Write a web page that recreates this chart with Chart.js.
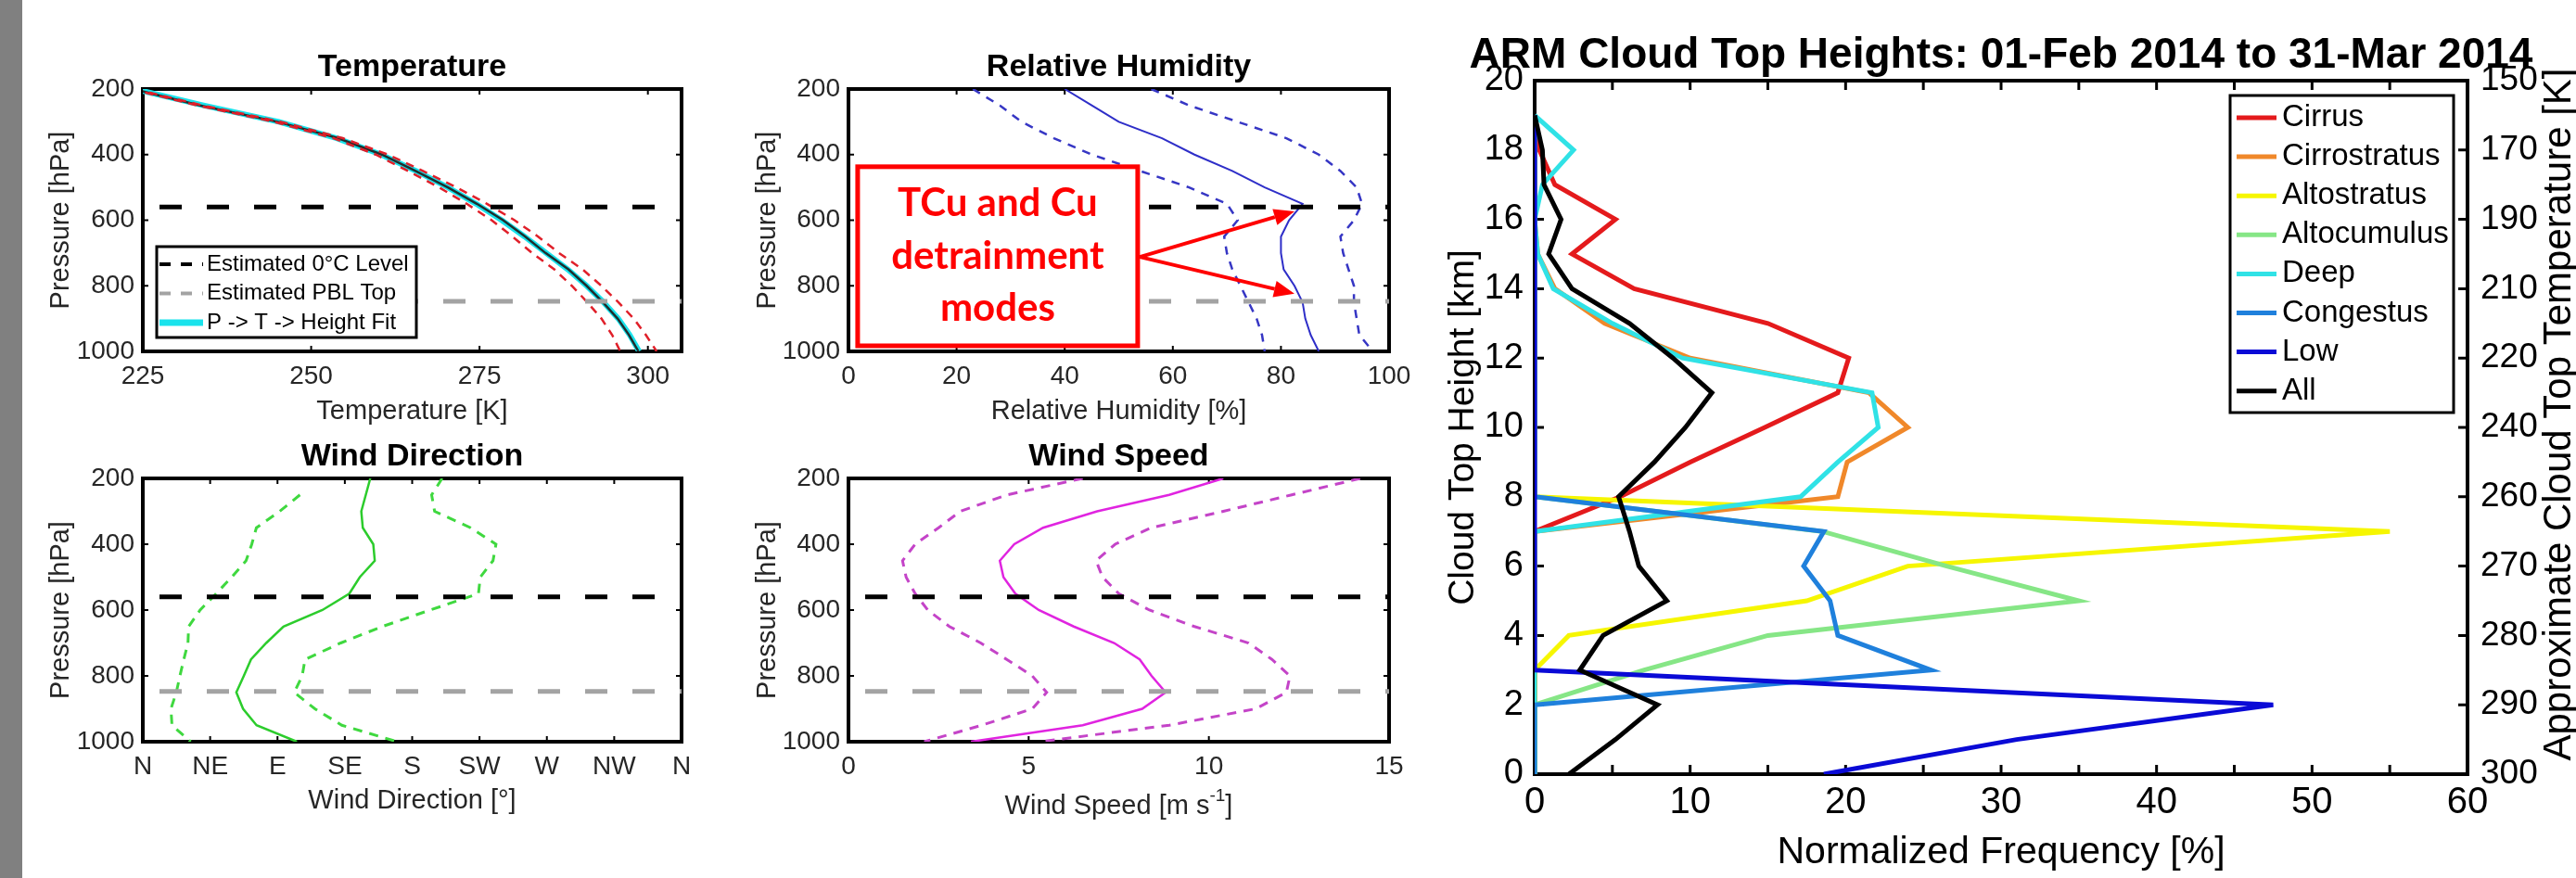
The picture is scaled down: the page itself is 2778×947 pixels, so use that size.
<!DOCTYPE html>
<html>
<head>
<meta charset="utf-8">
<script src="https://cdn.jsdelivr.net/npm/chart.js@4.4.1/dist/chart.umd.min.js"></script>
<style>
  html, body { margin: 0; padding: 0; background: #fff; }
  body { position: relative; width: 2778px; height: 947px; overflow: hidden; }
  #strip { position: absolute; left: 0; top: 0; width: 24px; height: 947px; background: #808080; }
  canvas { position: absolute; }
</style>
</head>
<body>
<div id="strip"></div>
<canvas id="cTemp"></canvas>
<canvas id="cRh"></canvas>
<canvas id="cWdir"></canvas>
<canvas id="cWspd"></canvas>
<canvas id="cCloud"></canvas>
<script>
// ---- profile data (pressure levels, hPa) ----
const PRESSURE = [200, 250, 300, 350, 400, 450, 500, 550, 600, 650, 700, 750, 800, 850, 900, 950, 1000];
const FREEZING_LEVEL = 560;
const PBL_TOP = 847;

const TEMP_MEAN = [223.5, 233.5, 245.0, 254.0, 260.5, 265.5, 270.3, 274.6, 278.5, 281.8, 284.8, 288.2, 290.9, 293.3, 295.5, 297.2, 298.6];
const TEMP_FIT  = [223.8, 234.0, 245.2, 253.8, 260.4, 265.6, 270.3, 274.5, 278.3, 281.7, 284.9, 288.1, 290.9, 293.4, 295.6, 297.3, 298.7];
const TEMP_LOW  = [223.2, 233.1, 244.5, 253.3, 259.6, 264.4, 269.0, 273.1, 276.8, 279.9, 282.8, 286.1, 288.7, 291.0, 293.1, 294.7, 295.9];
const TEMP_HIGH = [223.8, 233.9, 245.5, 254.7, 261.4, 266.6, 271.6, 276.1, 280.2, 283.7, 286.8, 290.3, 293.1, 295.6, 297.9, 299.7, 301.3];

const RH_MEAN = [40, 45, 50, 58, 64, 71, 77, 84, 81.5, 80, 80, 80.5, 82.5, 84, 84.5, 85.5, 87];
const RH_LOW  = [23, 28, 32, 38, 45, 54, 63, 70, 72, 69.5, 70, 71, 72.5, 74, 75.5, 76.5, 77];
const RH_HIGH = [56, 63, 72, 81, 87, 91, 94, 95, 93.5, 91, 91.5, 92.5, 93.5, 93.5, 94, 94.5, 97];

const WDIR_MEAN = [152, 149, 146, 147, 154, 155, 145, 138, 120, 94, 82.5, 72.3, 67.5, 62.5, 67, 76, 103];
const WDIR_LOW  = [null, 105, 91.5, 75.9, 72.8, 69, 59.4, 49, 38.3, 30.6, 30.2, 27.4, 24.8, 22.4, 18.8, 19.5, 32];
const WDIR_HIGH = [200, 193, 195, 219, 236, 234, 225.5, 224.3, 192, 160, 132.3, 108.4, 106.5, 101.2, 115, 133, 170];

const WSPD_MEAN = [10.4, 8.9, 6.9, 5.4, 4.6, 4.2, 4.3, 4.63, 5.28, 6.25, 7.37, 8.08, 8.41, 8.8, 8.15, 6.5, 3.4];
const WSPD_LOW  = [6.5, 4.4, 3.1, 2.5, 1.85, 1.5, 1.6, 1.85, 2.2, 2.8, 3.67, 4.39, 5.1, 5.5, 5.1, 3.7, 2.1];
const WSPD_HIGH = [14.2, 12.3, 10.4, 8.4, 7.4, 6.87, 7.05, 7.5, 8.35, 9.6, 11.1, 11.75, 12.25, 12.15, 11.3, 8.9, 5.3];

// ---- cloud top height histogram (km, %) ----
const HEIGHT_KM = [0, 1, 2, 3, 4, 5, 6, 7, 8, 9, 10, 11, 12, 13, 14, 15, 16, 17, 18, 19];
const CIRRUS       = [0, 0, 0, 0, 0, 0, 0, 0, 5.5, 10, 14.8, 19.5, 20.2, 15, 6.4, 2.4, 5.2, 1.3, 0.3, 0];
const CIRROSTRATUS = [0, 0, 0, 0, 0, 0, 0, 0, 19.5, 20.1, 24, 21.5, 10, 4.5, 1.3, 0.2, 0, 0, 0, 0];
const ALTOSTRATUS  = [0, 0, 0, 0, 2.2, 17.5, 24, 55, 0, 0, 0, 0, 0, 0, 0, 0, 0, 0, 0, 0];
const ALTOCUMULUS  = [0, 0, 0, 7, 15, 35, 26.5, 18.5, 0, 0, 0, 0, 0, 0, 0, 0, 0, 0, 0, 0];
const DEEP         = [0, 0, 0, 0, 0, 0, 0, 0, 17.1, 19.5, 22.1, 21.7, 9.5, 5, 1.2, 0.2, 0, 0.5, 2.5, 0];
const CONGESTUS    = [0, 0, 0, 25.5, 19.5, 19, 17.3, 18.6, 0, 0, 0, 0, 0, 0, 0, 0, 0, 0, 0, 0];
const LOW          = [18.6, 31, 47.5, 0, 0, 0, 0, 0, 0, 0, 0, 0, 0, 0, 0, 0, 0, 0, 0, 0];
const ALL          = [2.2, 5.2, 7.9, 2.9, 4.4, 8.5, 6.7, 6.1, 5.4, 7.7, 9.7, 11.4, 8.9, 6.1, 2.4, 0.9, 1.7, 0.6, 0.5, 0];

// ---- axis limits / ticks ----
const P_RANGE = [200, 1000];
const P_TICKS = [200, 400, 600, 800, 1000];
const TEMP_RANGE = [225, 305];
const TEMP_TICKS = [225, 250, 275, 300];
const RH_RANGE = [0, 100];
const RH_TICKS = [0, 20, 40, 60, 80, 100];
const WDIR_RANGE = [0, 360];
const WDIR_TICKS = [0, 45, 90, 135, 180, 225, 270, 315, 360];
const WDIR_LABELS = ['N', 'NE', 'E', 'SE', 'S', 'SW', 'W', 'NW', 'N'];
const WSPD_RANGE = [0, 15];
const WSPD_TICKS = [0, 5, 10, 15];
const FREQ_RANGE = [0, 60];
const FREQ_TICKS = [0, 10, 20, 30, 40, 50, 60];
const FREQ_MINOR = [0, 5, 10, 15, 20, 25, 30, 35, 40, 45, 50, 55, 60];
const KM_RANGE = [0, 20];
const KM_TICKS = [0, 2, 4, 6, 8, 10, 12, 14, 16, 18, 20];
const CTT_LABELS = ['300', '290', '280', '270', '260', '240', '220', '210', '190', '170', '150'];

const FONT = '"Liberation Sans", Arial, Helvetica, sans-serif';
const INK = '#262626';
Chart.defaults.font.family = FONT;

// ---- plugins ----
const framePlugin = {
  id: 'frame',
  beforeDatasetsDraw(chart, args, o) {
    const { ctx, chartArea: a, scales } = chart;
    ctx.save();
    ctx.strokeStyle = '#000';
    ctx.lineWidth = o.lw;
    ctx.strokeRect(a.left, a.top, a.right - a.left, a.bottom - a.top);
    ctx.lineWidth = o.tw;
    ctx.beginPath();
    const xs = o.xMinor || scales.x.ticks.map(t => t.value);
    xs.forEach(v => {
      const px = scales.x.getPixelForValue(v);
      ctx.moveTo(px, a.bottom); ctx.lineTo(px, a.bottom - o.len);
      ctx.moveTo(px, a.top); ctx.lineTo(px, a.top + o.len);
    });
    scales.y.ticks.forEach(t => {
      const py = scales.y.getPixelForValue(t.value);
      ctx.moveTo(a.left, py); ctx.lineTo(a.left + o.len, py);
      ctx.moveTo(a.right, py); ctx.lineTo(a.right - o.len, py);
    });
    ctx.stroke();
    ctx.restore();
  }
};

const legendPlugin = {
  id: 'boxLegend',
  afterDatasetsDraw(chart, args, o) {
    if (!o || !o.w) return;
    const { ctx, chartArea: a } = chart;
    const items = chart.data.datasets.filter(d => d.legendLabel)
      .sort((p, q) => p.legendRank - q.legendRank);
    ctx.save();
    ctx.fillStyle = '#fff';
    ctx.fillRect(a.left + o.x0, a.top + o.y0, o.w, o.h);
    ctx.strokeStyle = '#000';
    ctx.lineWidth = o.lw;
    ctx.strokeRect(a.left + o.x0, a.top + o.y0, o.w, o.h);
    items.forEach((d, i) => {
      const y = a.top + o.row0 + i * o.rowH;
      ctx.strokeStyle = d.borderColor;
      ctx.lineWidth = d.legendWidth || d.borderWidth;
      ctx.setLineDash(d.legendDash || []);
      ctx.beginPath();
      ctx.moveTo(a.left + o.s0, y);
      ctx.lineTo(a.left + o.s1, y);
      ctx.stroke();
      ctx.setLineDash([]);
      ctx.fillStyle = o.color;
      ctx.font = o.font;
      ctx.textAlign = 'left';
      ctx.textBaseline = 'middle';
      ctx.fillText(d.legendLabel, a.left + o.tx, y);
    });
    ctx.restore();
  }
};

const calloutPlugin = {
  id: 'callout',
  afterDatasetsDraw(chart, args, o) {
    if (!o || !o.box) return;
    const { ctx, scales: { x, y } } = chart;
    const L = x.getPixelForValue(o.box.x0), R = x.getPixelForValue(o.box.x1);
    const T = y.getPixelForValue(o.box.p0), B = y.getPixelForValue(o.box.p1);
    ctx.save();
    ctx.fillStyle = '#fff';
    ctx.fillRect(L, T, R - L, B - T);
    ctx.strokeStyle = o.color;
    ctx.lineWidth = o.lw;
    ctx.strokeRect(L, T, R - L, B - T);
    ctx.fillStyle = o.color;
    ctx.font = o.font;
    ctx.textAlign = 'center';
    ctx.textBaseline = 'middle';
    o.lines.forEach((ln, i) => ctx.fillText(ln, (L + R) / 2, T + o.rows[i]));
    const sx = x.getPixelForValue(o.from.x), sy = y.getPixelForValue(o.from.p);
    o.tips.forEach(tp => {
      const ex = x.getPixelForValue(tp.x), ey = y.getPixelForValue(tp.p);
      const ang = Math.atan2(ey - sy, ex - sx);
      const bx = ex - o.head * Math.cos(ang), by = ey - o.head * Math.sin(ang);
      ctx.lineWidth = o.alw;
      ctx.beginPath(); ctx.moveTo(sx, sy); ctx.lineTo(bx, by); ctx.stroke();
      ctx.beginPath();
      ctx.moveTo(ex, ey);
      ctx.lineTo(bx + o.headW * Math.sin(ang), by - o.headW * Math.cos(ang));
      ctx.lineTo(bx - o.headW * Math.sin(ang), by + o.headW * Math.cos(ang));
      ctx.closePath(); ctx.fill();
    });
    ctx.restore();
  }
};

const textPlugin = {
  id: 'texts',
  afterDraw(chart, args, o) {
    const { ctx, chartArea: a } = chart;
    const cx = (a.left + a.right) / 2, cy = (a.top + a.bottom) / 2;
    (o.items || []).forEach(t => {
      let x = cx + (t.dx || 0), y = cy + (t.dy || 0), rot = 0;
      if (t.at === 'top') y = a.top + t.off;
      if (t.at === 'bottom') y = a.bottom + t.off;
      if (t.at === 'left') { x = a.left + t.off; rot = -Math.PI / 2; }
      if (t.at === 'right') { x = a.right + t.off; rot = -Math.PI / 2; }
      ctx.save();
      ctx.translate(x, y);
      ctx.rotate(rot);
      ctx.fillStyle = t.color || '#000';
      ctx.textBaseline = 'middle';
      const parts = t.parts || [{ s: t.text, font: t.font }];
      let total = 0;
      parts.forEach(p => { ctx.font = p.font || t.font; p.w = ctx.measureText(p.s).width; total += p.w; });
      let px = -total / 2;
      ctx.textAlign = 'left';
      parts.forEach(p => { ctx.font = p.font || t.font; ctx.fillText(p.s, px, p.rise || 0); px += p.w; });
      ctx.restore();
    });
  }
};

// ---- helpers ----
function profile(xs, ys, color, width, dash, extra) {
  return Object.assign({
    data: xs.map((v, i) => ({ x: v, y: ys[i] })),
    borderColor: color, borderWidth: width, borderDash: dash || [],
    pointRadius: 0, fill: false
  }, extra || {});
}

function levelLine(range, p, color, extra) {
  return profile(range, [p, p], color, 5, [24, 27], Object.assign({ borderDashOffset: 33 }, extra || {}));
}

function axis(pos, range, ticks, size, pad, fit, opts) {
  return Object.assign({
    type: 'linear', position: pos, min: range[0], max: range[1],
    grid: { display: false, drawTicks: false },
    border: { display: false },
    afterBuildTicks: s => { s.ticks = ticks.map(v => ({ value: v })); },
    afterFit: fit,
    ticks: { autoSkip: false, maxRotation: 0, minRotation: 0, padding: pad,
             font: { size: size }, color: INK, callback: v => String(v) }
  }, opts || {});
}

function panel(id, box, m, cfg) {
  const cv = document.getElementById(id);
  const w = box.w + m.l + m.r, h = box.h + m.t + m.b;
  cv.width = w; cv.height = h;
  cv.style.left = (box.x - m.l) + 'px';
  cv.style.top = (box.y - m.t) + 'px';
  cv.style.width = w + 'px';
  cv.style.height = h + 'px';
  return new Chart(cv, {
    type: 'line',
    data: { datasets: cfg.datasets },
    plugins: [framePlugin, legendPlugin, calloutPlugin, textPlugin],
    options: {
      responsive: false, animation: false, devicePixelRatio: 1, events: [],
      layout: { padding: { left: 0, top: m.t, right: cfg.rightAxis ? 0 : m.r, bottom: 0 } },
      scales: cfg.scales,
      plugins: {
        legend: { display: false }, tooltip: { enabled: false },
        frame: cfg.frame, boxLegend: cfg.legend || {}, callout: cfg.callout || {},
        texts: { items: cfg.texts }
      }
    }
  });
}

function pressureAxis(m) {
  return axis('left', P_RANGE, P_TICKS, 28, 9, s => { s.width = m.l; }, { reverse: true });
}

const TITLE_FONT = 'bold 34px ' + FONT;
const LABEL_FONT = '29px ' + FONT;

// ---- Temperature ----
const mTemp = { l: 154, t: 96, r: 40, b: 90 };
panel('cTemp', { x: 154, y: 96, w: 581, h: 283 }, mTemp, {
  datasets: [
    levelLine(TEMP_RANGE, FREEZING_LEVEL, '#000', { legendLabel: 'Estimated 0\u00B0C Level', legendRank: 0, legendWidth: 4, legendDash: [12, 11] }),
    levelLine(TEMP_RANGE, PBL_TOP, '#a3a3a3', { legendLabel: 'Estimated PBL Top', legendRank: 1, legendWidth: 4, legendDash: [12, 11] }),
    profile(TEMP_HIGH, PRESSURE, '#e0202a', 2.5, [9, 7]),
    profile(TEMP_LOW, PRESSURE, '#e0202a', 2.5, [9, 7]),
    profile(TEMP_MEAN, PRESSURE, '#1e2e2e', 2.5),
    profile(TEMP_FIT, PRESSURE, '#19e3ec', 6, [], { legendLabel: 'P -> T -> Height Fit', legendRank: 2, legendWidth: 7 })
  ],
  scales: {
    x: axis('bottom', TEMP_RANGE, TEMP_TICKS, 28, 10, s => { s.height = mTemp.b; }),
    y: pressureAxis(mTemp)
  },
  frame: { lw: 4, tw: 2, len: 6 },
  legend: { x0: 15, y0: 170, w: 280, h: 98, s0: 18, s1: 65, tx: 69, row0: 189, rowH: 31.5,
            font: '24px ' + FONT, color: '#000', lw: 3 },
  texts: [
    { text: 'Temperature', font: TITLE_FONT, at: 'top', off: -23 },
    { text: 'Pressure [hPa]', font: LABEL_FONT, at: 'left', off: -88, color: INK },
    { text: 'Temperature [K]', font: LABEL_FONT, at: 'bottom', off: 65, color: INK }
  ]
});

// ---- Relative humidity ----
const mRh = { l: 140, t: 96, r: 40, b: 90 };
panel('cRh', { x: 915, y: 96, w: 583, h: 283 }, mRh, {
  datasets: [
    levelLine(RH_RANGE, FREEZING_LEVEL, '#000'),
    levelLine(RH_RANGE, PBL_TOP, '#a3a3a3'),
    profile(RH_HIGH, PRESSURE, '#3636c4', 2.5, [9, 8]),
    profile(RH_LOW, PRESSURE, '#3636c4', 2.5, [9, 8]),
    profile(RH_MEAN, PRESSURE, '#2e2ec8', 2)
  ],
  scales: {
    x: axis('bottom', RH_RANGE, RH_TICKS, 28, 10, s => { s.height = mRh.b; }),
    y: pressureAxis(mRh)
  },
  frame: { lw: 4, tw: 2, len: 6 },
  callout: {
    box: { x0: 1.7, x1: 53.5, p0: 437, p1: 983 },
    color: '#ff0000', lw: 5, font: 'bold 42px Lato, ' + FONT,
    lines: ['TCu and Cu', 'detrainment', 'modes'], rows: [40, 97, 153],
    from: { x: 53.9, p: 712 }, tips: [{ x: 82.5, p: 573 }, { x: 82.5, p: 824 }],
    alw: 4, head: 22, headW: 9
  },
  texts: [
    { text: 'Relative Humidity', font: TITLE_FONT, at: 'top', off: -23 },
    { text: 'Pressure [hPa]', font: LABEL_FONT, at: 'left', off: -87, color: INK },
    { text: 'Relative Humidity [%]', font: LABEL_FONT, at: 'bottom', off: 65, color: INK }
  ]
});

// ---- Wind direction ----
const mWdir = { l: 154, t: 57, r: 40, b: 100 };
panel('cWdir', { x: 154, y: 516, w: 581, h: 284 }, mWdir, {
  datasets: [
    levelLine(WDIR_RANGE, FREEZING_LEVEL, '#000'),
    levelLine(WDIR_RANGE, PBL_TOP, '#a3a3a3'),
    profile(WDIR_HIGH, PRESSURE, '#3fd83f', 3, [10, 8]),
    profile(WDIR_LOW, PRESSURE, '#3fd83f', 3, [10, 8]),
    profile(WDIR_MEAN, PRESSURE, '#2ccc2c', 2.5)
  ],
  scales: {
    x: axis('bottom', WDIR_RANGE, WDIR_TICKS, 28, 10, s => { s.height = mWdir.b; },
            { ticks: { autoSkip: false, maxRotation: 0, minRotation: 0, padding: 10, font: { size: 28 }, color: INK,
                       callback: (v, i) => WDIR_LABELS[i] } }),
    y: pressureAxis(mWdir)
  },
  frame: { lw: 4, tw: 2, len: 6 },
  texts: [
    { text: 'Wind Direction', font: TITLE_FONT, at: 'top', off: -23 },
    { text: 'Pressure [hPa]', font: LABEL_FONT, at: 'left', off: -88, color: INK },
    { text: 'Wind Direction [\u00B0]', font: LABEL_FONT, at: 'bottom', off: 64, color: INK }
  ]
});

// ---- Wind speed ----
const mWspd = { l: 140, t: 57, r: 40, b: 100 };
panel('cWspd', { x: 915, y: 516, w: 583, h: 284 }, mWspd, {
  datasets: [
    levelLine(WSPD_RANGE, FREEZING_LEVEL, '#000'),
    levelLine(WSPD_RANGE, PBL_TOP, '#a3a3a3'),
    profile(WSPD_HIGH, PRESSURE, '#c444c8', 3, [10, 8]),
    profile(WSPD_LOW, PRESSURE, '#c444c8', 3, [10, 8]),
    profile(WSPD_MEAN, PRESSURE, '#e024e0', 2.5)
  ],
  scales: {
    x: axis('bottom', WSPD_RANGE, WSPD_TICKS, 28, 10, s => { s.height = mWspd.b; }),
    y: pressureAxis(mWspd)
  },
  frame: { lw: 4, tw: 2, len: 6 },
  texts: [
    { text: 'Wind Speed', font: TITLE_FONT, at: 'top', off: -23 },
    { text: 'Pressure [hPa]', font: LABEL_FONT, at: 'left', off: -87, color: INK },
    { at: 'bottom', off: 70, color: INK, font: LABEL_FONT,
      parts: [{ s: 'Wind Speed [m s' }, { s: '-1', font: '19px ' + FONT, rise: -11 }, { s: ']' }] }
  ]
});

// ---- Cloud top heights ----
const mCloud = { l: 115, t: 87, r: 117, b: 112 };
const CLOUD_SERIES = [
  ['Cirrus', CIRRUS, '#e41a1c'],
  ['Cirrostratus', CIRROSTRATUS, '#f0882a'],
  ['Altostratus', ALTOSTRATUS, '#f6f600'],
  ['Altocumulus', ALTOCUMULUS, '#86e686'],
  ['Deep', DEEP, '#30e2e6'],
  ['Congestus', CONGESTUS, '#1f80dc'],
  ['Low', LOW, '#0a0ad6'],
  ['All', ALL, '#000000']
];
panel('cCloud', { x: 1655, y: 87, w: 1006, h: 748 }, mCloud, {
  rightAxis: true,
  datasets: CLOUD_SERIES.map(([name, vals, color], i) =>
    profile(vals, HEIGHT_KM, color, 5, [], { legendLabel: name, legendRank: i, order: -i, legendWidth: 5 })),
  scales: {
    x: axis('bottom', FREQ_RANGE, FREQ_TICKS, 40, 7, s => { s.height = mCloud.b; },
            { ticks: { autoSkip: false, maxRotation: 0, padding: 7, font: { size: 40 }, color: '#000', callback: v => String(v) } }),
    y: axis('left', KM_RANGE, KM_TICKS, 38, 12, s => { s.width = mCloud.l; },
            { ticks: { autoSkip: false, padding: 12, font: { size: 38 }, color: '#000', callback: v => String(v) } }),
    y2: axis('right', KM_RANGE, KM_TICKS, 37, 14, s => { s.width = mCloud.r; },
            { ticks: { autoSkip: false, padding: 14, font: { size: 37 }, color: '#000', callback: (v, i) => CTT_LABELS[i] } })
  },
  frame: { lw: 4, tw: 3, len: 10, xMinor: FREQ_MINOR },
  legend: { x0: 750, y0: 16, w: 241, h: 342, s0: 757, s1: 800, tx: 806, row0: 40, rowH: 42.1,
            font: '33px ' + FONT, color: '#000', lw: 3 },
  texts: [
    { text: 'ARM Cloud Top Heights: 01-Feb 2014 to 31-Mar 2014', font: 'bold 46px ' + FONT, at: 'top', off: -27 },
    { text: 'Cloud Top Height [km]', font: '39px ' + FONT, at: 'left', off: -77 },
    { text: 'Normalized Frequency [%]', font: '41px ' + FONT, at: 'bottom', off: 85 },
    { text: 'Approximate Cloud Top Temperature [K]', font: '42px ' + FONT, at: 'right', off: 99, dy: -14 }
  ]
});
</script>
</body>
</html>
